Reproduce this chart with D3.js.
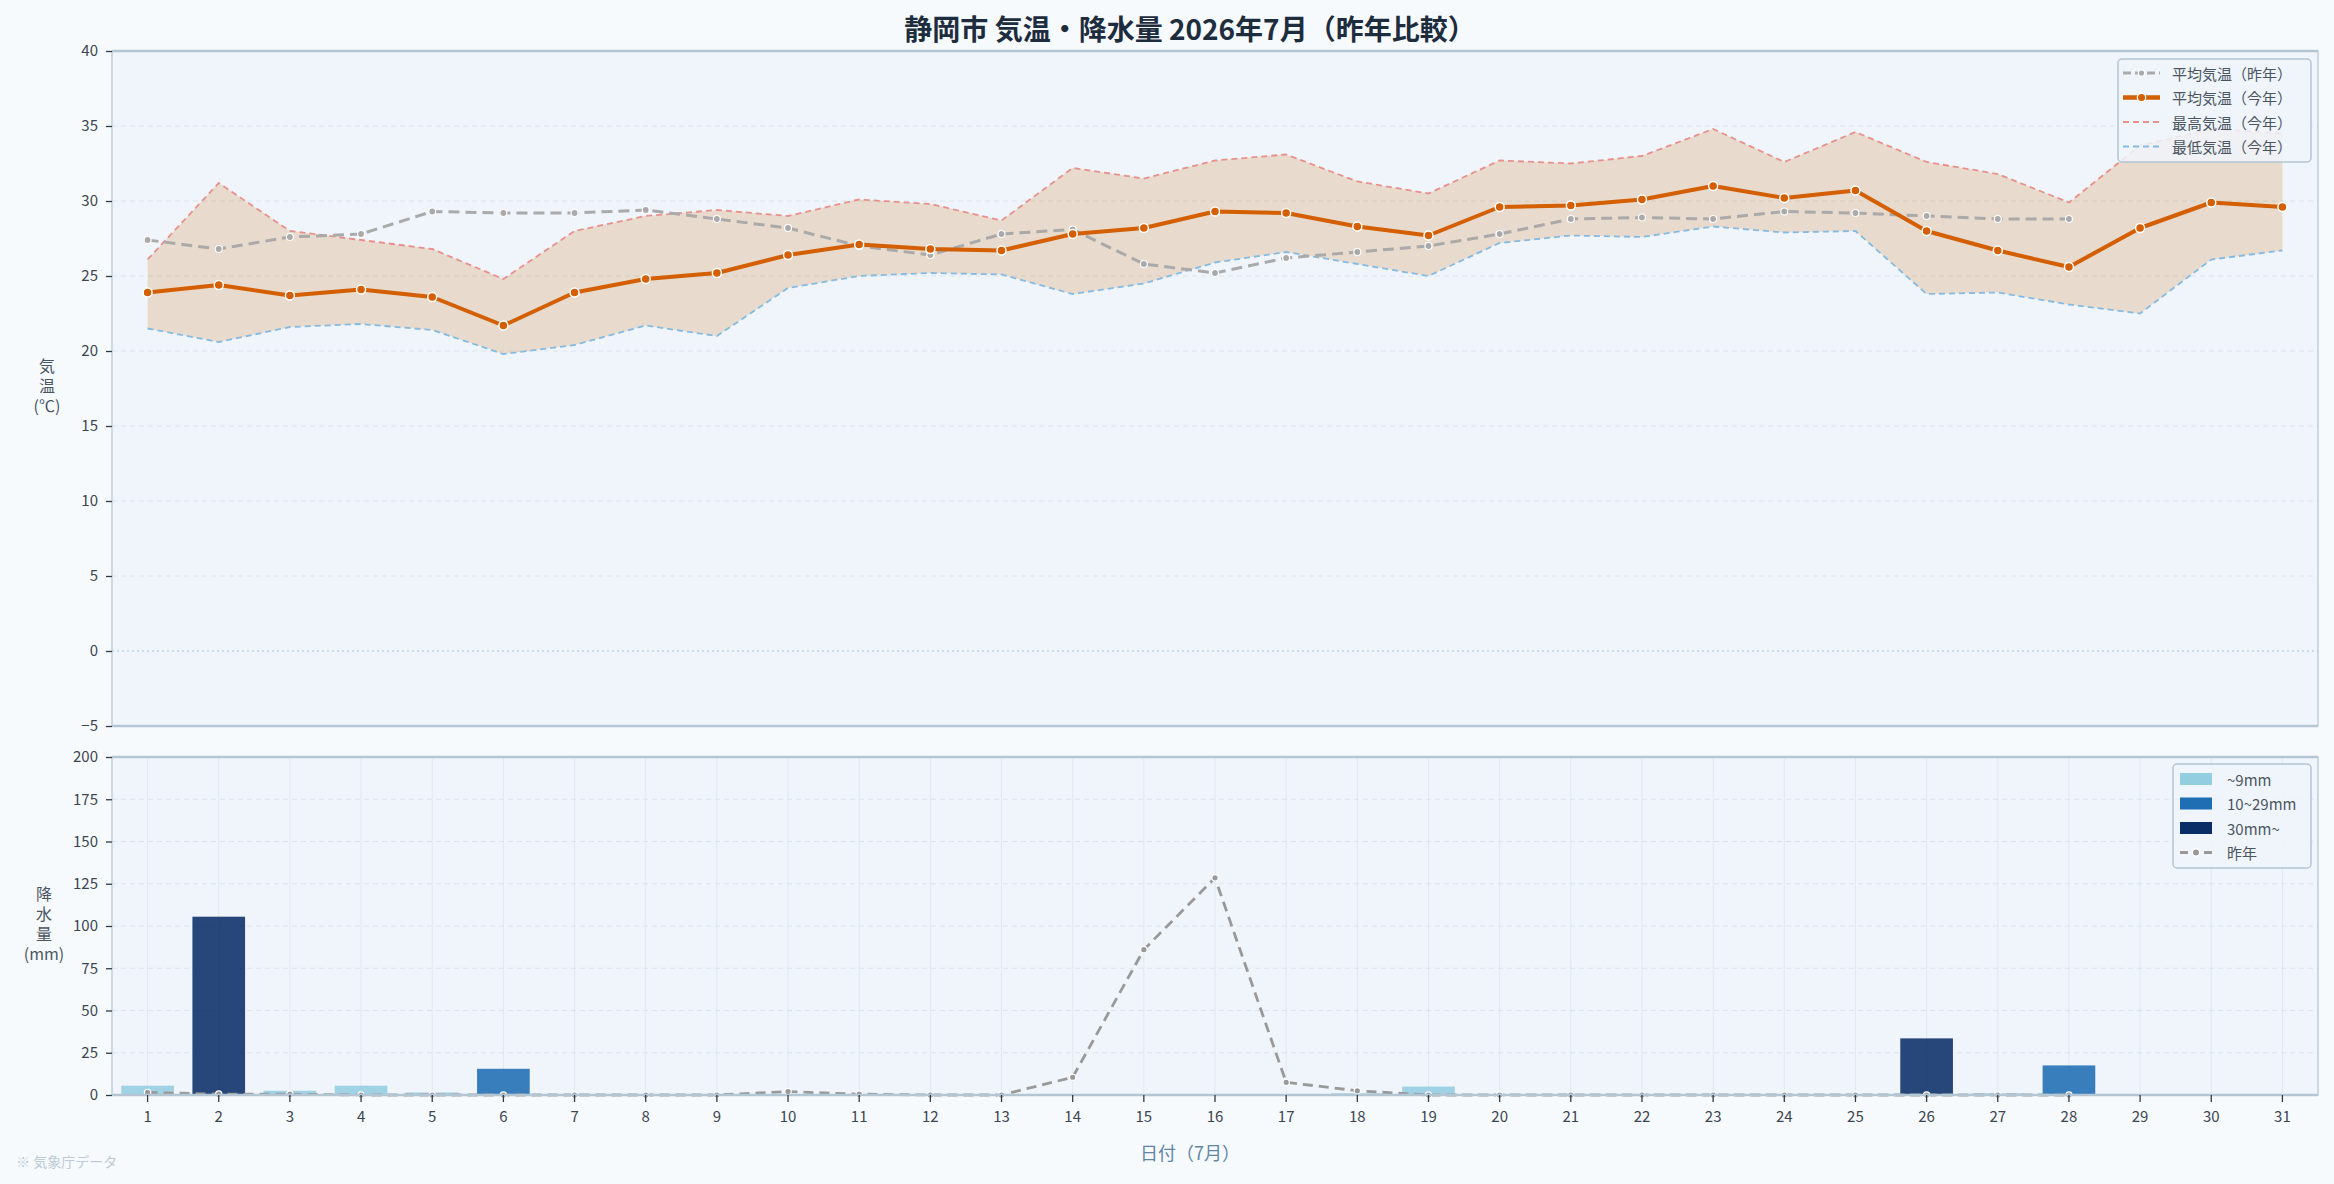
<!DOCTYPE html>
<html><head><meta charset="utf-8">
<script src="https://cdn.jsdelivr.net/npm/d3@7"></script>
<style>
html,body{margin:0;padding:0;background:#f7fafd;}
svg{display:block;font-family:"Noto Sans CJK JP","Noto Sans",sans-serif;}
</style></head>
<body><svg id="chart" width="2334" height="1184"></svg>
<script>
// ---- data ----
const days = [1,2,3,4,5,6,7,8,9,10,11,12,13,14,15,16,17,18,19,20,21,22,23,24,25,26,27,28,29,30,31];
const tempMean = [23.9,24.4,23.7,24.1,23.6,21.7,23.9,24.8,25.2,26.4,27.1,26.8,26.7,27.8,28.2,29.3,29.2,28.3,27.7,29.6,29.7,30.1,31.0,30.2,30.7,28.0,26.7,25.6,28.2,29.9,29.6];
const tempMax  = [26.1,31.2,28.0,27.4,26.8,24.8,28.0,29.0,29.4,29.0,30.1,29.8,28.7,32.2,31.5,32.7,33.1,31.3,30.5,32.7,32.5,33.0,34.8,32.6,34.6,32.6,31.8,29.9,33.7,34.8,34.5];
const tempMin  = [21.5,20.6,21.6,21.8,21.4,19.8,20.4,21.7,21.0,24.2,25.0,25.2,25.1,23.8,24.5,25.9,26.6,25.8,25.0,27.2,27.7,27.6,28.3,27.9,28.0,23.8,23.9,23.1,22.5,26.1,26.7];
const prevMean = [27.4,26.8,27.6,27.8,29.3,29.2,29.2,29.4,28.8,28.2,27.0,26.4,27.8,28.1,25.8,25.2,26.2,26.6,27.0,27.8,28.8,28.9,28.8,29.3,29.2,29.0,28.8,28.8,null,null,null];
const precip   = [5.5,105.5,2.5,5.5,1.5,15.5,0,0,0,0,0,0,0,0,0,0,0,1.0,5.0,0,0,0,0,0,0,33.5,1.0,17.5,0,0,0];
const prevPrecip = [1.5,0.5,0.5,0,0,0,0,0,0,2.0,0.5,0,0,10.5,86,128.5,7.5,2.5,0,0,0,0,0,0,0,0,0,0,null,null,null];
const tempTicks = [-5,0,5,10,15,20,25,30,35,40];
const precipTicks = [0,25,50,75,100,125,150,175,200];
const tempLegend = ["平均気温（昨年）","平均気温（今年）","最高気温（今年）","最低気温（今年）"];
const precipLegend = ["~9mm","10~29mm","30mm~","昨年"];
const titleText = "静岡市 気温・降水量 2026年7月（昨年比較）";

// ---- layout ----
const L = 112, R = 2318;
const T1 = 51, B1 = 726, T2 = 757, B2 = 1095;
const C_MEAN = "#d35f00", C_PREV = "#aaaaaa", C_MAX = "#e8918c", C_MIN = "#85bbe3";
const C_LIGHT = "#92cde0", C_MID = "#1f6db3", C_DARK = "#0a2d66";

const svg = d3.select("#chart");
svg.append("rect").attr("width",2334).attr("height",1184).attr("fill","#f7fafd");

const x = d3.scaleBand().domain(days).range([L,R]).paddingInner(0.26).paddingOuter(0.13);
const xc = d => x(d) + x.bandwidth()/2;
const yT = d3.scaleLinear().domain([-5,40]).range([B1,T1]);
const yP = d3.scaleLinear().domain([0,200]).range([B2,T2]);

// backgrounds
svg.append("rect").attr("x",L).attr("y",T1).attr("width",R-L).attr("height",B1-T1).attr("fill","#f0f5fb");
svg.append("rect").attr("x",L).attr("y",T2).attr("width",R-L).attr("height",B2-T2).attr("fill","#f0f5fb");

// grids top
svg.append("g").selectAll("line").data(tempTicks.filter(t=>t>-5 && t<40 && t!==0)).join("line")
  .attr("x1",L).attr("x2",R).attr("y1",d=>yT(d)).attr("y2",d=>yT(d))
  .attr("stroke","#dae4ee").attr("stroke-width",1).attr("stroke-dasharray","5,4");
svg.append("line").attr("x1",L).attr("x2",R).attr("y1",yT(0)).attr("y2",yT(0))
  .attr("stroke","#9ec4de").attr("stroke-width",1.2).attr("stroke-dasharray","2,3");

// grids bottom
svg.append("g").selectAll("line").data(days).join("line")
  .attr("x1",d=>xc(d)).attr("x2",d=>xc(d)).attr("y1",T2).attr("y2",B2)
  .attr("stroke","#e1e8f0").attr("stroke-width",1);
svg.append("g").selectAll("line").data(precipTicks.filter(t=>t>0 && t<200)).join("line")
  .attr("x1",L).attr("x2",R).attr("y1",d=>yP(d)).attr("y2",d=>yP(d))
  .attr("stroke","#dae4ee").attr("stroke-width",1).attr("stroke-dasharray","5,4");

// ---- temperature chart ----
const tData = days.map((d,i)=>({d, mean:tempMean[i], max:tempMax[i], min:tempMin[i], prev:prevMean[i]}));
svg.append("path").datum(tData)
  .attr("d", d3.area().x(p=>xc(p.d)).y0(p=>yT(p.min)).y1(p=>yT(p.max)))
  .attr("fill","rgba(205,122,37,0.22)");
svg.append("path").datum(tData)
  .attr("d", d3.line().x(p=>xc(p.d)).y(p=>yT(p.max)))
  .attr("fill","none").attr("stroke",C_MAX).attr("stroke-width",1.8).attr("stroke-dasharray","6,4");
svg.append("path").datum(tData)
  .attr("d", d3.line().x(p=>xc(p.d)).y(p=>yT(p.min)))
  .attr("fill","none").attr("stroke",C_MIN).attr("stroke-width",1.8).attr("stroke-dasharray","6,4");
const prevT = tData.filter(p=>p.prev!==null);
svg.append("path").datum(prevT)
  .attr("d", d3.line().x(p=>xc(p.d)).y(p=>yT(p.prev)))
  .attr("fill","none").attr("stroke",C_PREV).attr("stroke-width",3).attr("stroke-dasharray","11,6");
svg.append("g").selectAll("circle").data(prevT).join("circle")
  .attr("cx",p=>xc(p.d)).attr("cy",p=>yT(p.prev)).attr("r",3.5)
  .attr("fill",C_PREV).attr("stroke","#ffffff").attr("stroke-width",1.2);
svg.append("path").datum(tData)
  .attr("d", d3.line().x(p=>xc(p.d)).y(p=>yT(p.mean)))
  .attr("fill","none").attr("stroke",C_MEAN).attr("stroke-width",4).attr("stroke-linejoin","round");
svg.append("g").selectAll("circle").data(tData).join("circle")
  .attr("cx",p=>xc(p.d)).attr("cy",p=>yT(p.mean)).attr("r",4.5)
  .attr("fill",C_MEAN).attr("stroke","#ffffff").attr("stroke-width",1.5);

// ---- precipitation chart ----
const pData = days.map((d,i)=>({d, v:precip[i], prev:prevPrecip[i]}));
const barColor = v => v >= 30 ? C_DARK : (v >= 10 ? C_MID : C_LIGHT);
svg.append("g").selectAll("rect").data(pData.filter(p=>p.v>0)).join("rect")
  .attr("x",p=>x(p.d)).attr("width",x.bandwidth())
  .attr("y",p=>yP(p.v)).attr("height",p=>yP(0)-yP(p.v))
  .attr("fill",p=>barColor(p.v)).attr("fill-opacity",0.88);
const prevP = pData.filter(p=>p.prev!==null);
svg.append("path").datum(prevP)
  .attr("d", d3.line().x(p=>xc(p.d)).y(p=>yP(p.prev)))
  .attr("fill","none").attr("stroke","#999999").attr("stroke-width",2.8).attr("stroke-dasharray","10,6");
svg.append("g").selectAll("circle").data(prevP).join("circle")
  .attr("cx",p=>xc(p.d)).attr("cy",p=>yP(p.prev)).attr("r",3.2)
  .attr("fill","#999999").attr("stroke","#ffffff").attr("stroke-width",1.2);

// ---- borders ----
[[T1,B1],[T2,B2]].forEach(([t,b])=>{
  svg.append("rect").attr("x",L).attr("y",t).attr("width",R-L).attr("height",b-t)
    .attr("fill","none").attr("stroke","#b9c9d6").attr("stroke-width",1.3);
  svg.append("line").attr("x1",L).attr("x2",R).attr("y1",t).attr("y2",t).attr("stroke","#b4c5d4").attr("stroke-width",2.5);
  svg.append("line").attr("x1",L).attr("x2",R).attr("y1",b).attr("y2",b).attr("stroke","#b4c5d4").attr("stroke-width",2.5);
});

// ---- axes ----
function styleAxis(g){
  g.select(".domain").remove();
  g.selectAll(".tick line").attr("stroke","#333a44").attr("stroke-width",1.3);
  g.selectAll(".tick text").attr("fill","#3c4652").attr("font-size",15)
    .attr("font-family",'"Noto Sans CJK JP","Noto Sans",sans-serif');
}
svg.append("g").attr("transform",`translate(${L},0)`)
  .call(d3.axisLeft(yT).tickValues(tempTicks).tickSize(6).tickPadding(8)).call(styleAxis);
svg.append("g").attr("transform",`translate(${L},0)`)
  .call(d3.axisLeft(yP).tickValues(precipTicks).tickSize(6).tickPadding(8)).call(styleAxis);
const xAxisG = svg.append("g").attr("transform",`translate(0,${B2})`)
  .call(d3.axisBottom(x).tickSize(7).tickPadding(9)).call(styleAxis);

// ---- titles & labels ----
svg.append("text").attr("x",1190).attr("y",28).attr("text-anchor","middle").attr("dominant-baseline","central")
  .attr("font-size",28).attr("font-weight","bold").attr("fill","#1e2d3d").text(titleText);

const yl1 = svg.append("text").attr("text-anchor","middle").attr("fill","#4a5562").attr("font-size",16);
["気","温","(℃)"].forEach((s,i)=>yl1.append("tspan").attr("x",47).attr("y",372+i*20).text(s));
const yl2 = svg.append("text").attr("text-anchor","middle").attr("fill","#4a5562").attr("font-size",16);
["降","水","量","(mm)"].forEach((s,i)=>yl2.append("tspan").attr("x",44).attr("y",900+i*20).text(s));

svg.append("text").attr("x",1190).attr("y",1152).attr("text-anchor","middle").attr("dominant-baseline","central")
  .attr("font-size",18).attr("fill","#5f86a6").text("日付（7月）");
svg.append("text").attr("x",16).attr("y",1161).attr("dominant-baseline","central")
  .attr("font-size",14).attr("fill","#bccbd7").text("※ 気象庁データ");

// ---- legend top ----
const lg1 = svg.append("g").attr("transform","translate(2118,59)");
lg1.append("rect").attr("width",193).attr("height",103).attr("rx",4)
  .attr("fill","rgba(240,245,251,0.86)").attr("stroke","#b4c5d4").attr("stroke-width",1.5);
const legStyles = [
  {c:C_PREV, w:3, dash:"8,4", dot:true, r:3.2},
  {c:C_MEAN, w:4.5, dash:null, dot:true, r:4.2},
  {c:C_MAX, w:1.8, dash:"6,4", dot:false},
  {c:C_MIN, w:1.8, dash:"6,4", dot:false}
];
tempLegend.forEach((t,i)=>{
  const y = 14 + i*24.5;
  const s = legStyles[i];
  lg1.append("line").attr("x1",5).attr("x2",42).attr("y1",y).attr("y2",y)
    .attr("stroke",s.c).attr("stroke-width",s.w).attr("stroke-dasharray",s.dash);
  if(s.dot) lg1.append("circle").attr("cx",23.5).attr("cy",y).attr("r",s.r)
    .attr("fill",s.c).attr("stroke","#fff").attr("stroke-width",1.2);
  lg1.append("text").attr("x",54).attr("y",y).attr("dominant-baseline","central")
    .attr("font-size",15).attr("fill","#4a5562").text(t);
});

// ---- legend bottom ----
const lg2 = svg.append("g").attr("transform","translate(2173,764)");
lg2.append("rect").attr("width",138).attr("height",104).attr("rx",4)
  .attr("fill","rgba(240,245,251,0.86)").attr("stroke","#b4c5d4").attr("stroke-width",1.5);
const swatches = [C_LIGHT, C_MID, C_DARK];
precipLegend.forEach((t,i)=>{
  const y = 15 + i*24.5;
  if(i<3){
    lg2.append("rect").attr("x",7).attr("y",y-6).attr("width",32).attr("height",12).attr("fill",swatches[i]);
  } else {
    lg2.append("line").attr("x1",7).attr("x2",39).attr("y1",y).attr("y2",y)
      .attr("stroke","#999999").attr("stroke-width",3).attr("stroke-dasharray","8,4");
    lg2.append("circle").attr("cx",23).attr("cy",y).attr("r",3.6)
      .attr("fill","#999999").attr("stroke","#fff").attr("stroke-width",1.2);
  }
  lg2.append("text").attr("x",54).attr("y",y).attr("dominant-baseline","central")
    .attr("font-size",15).attr("fill","#4a5562").text(t);
});
</script>
</body></html>
